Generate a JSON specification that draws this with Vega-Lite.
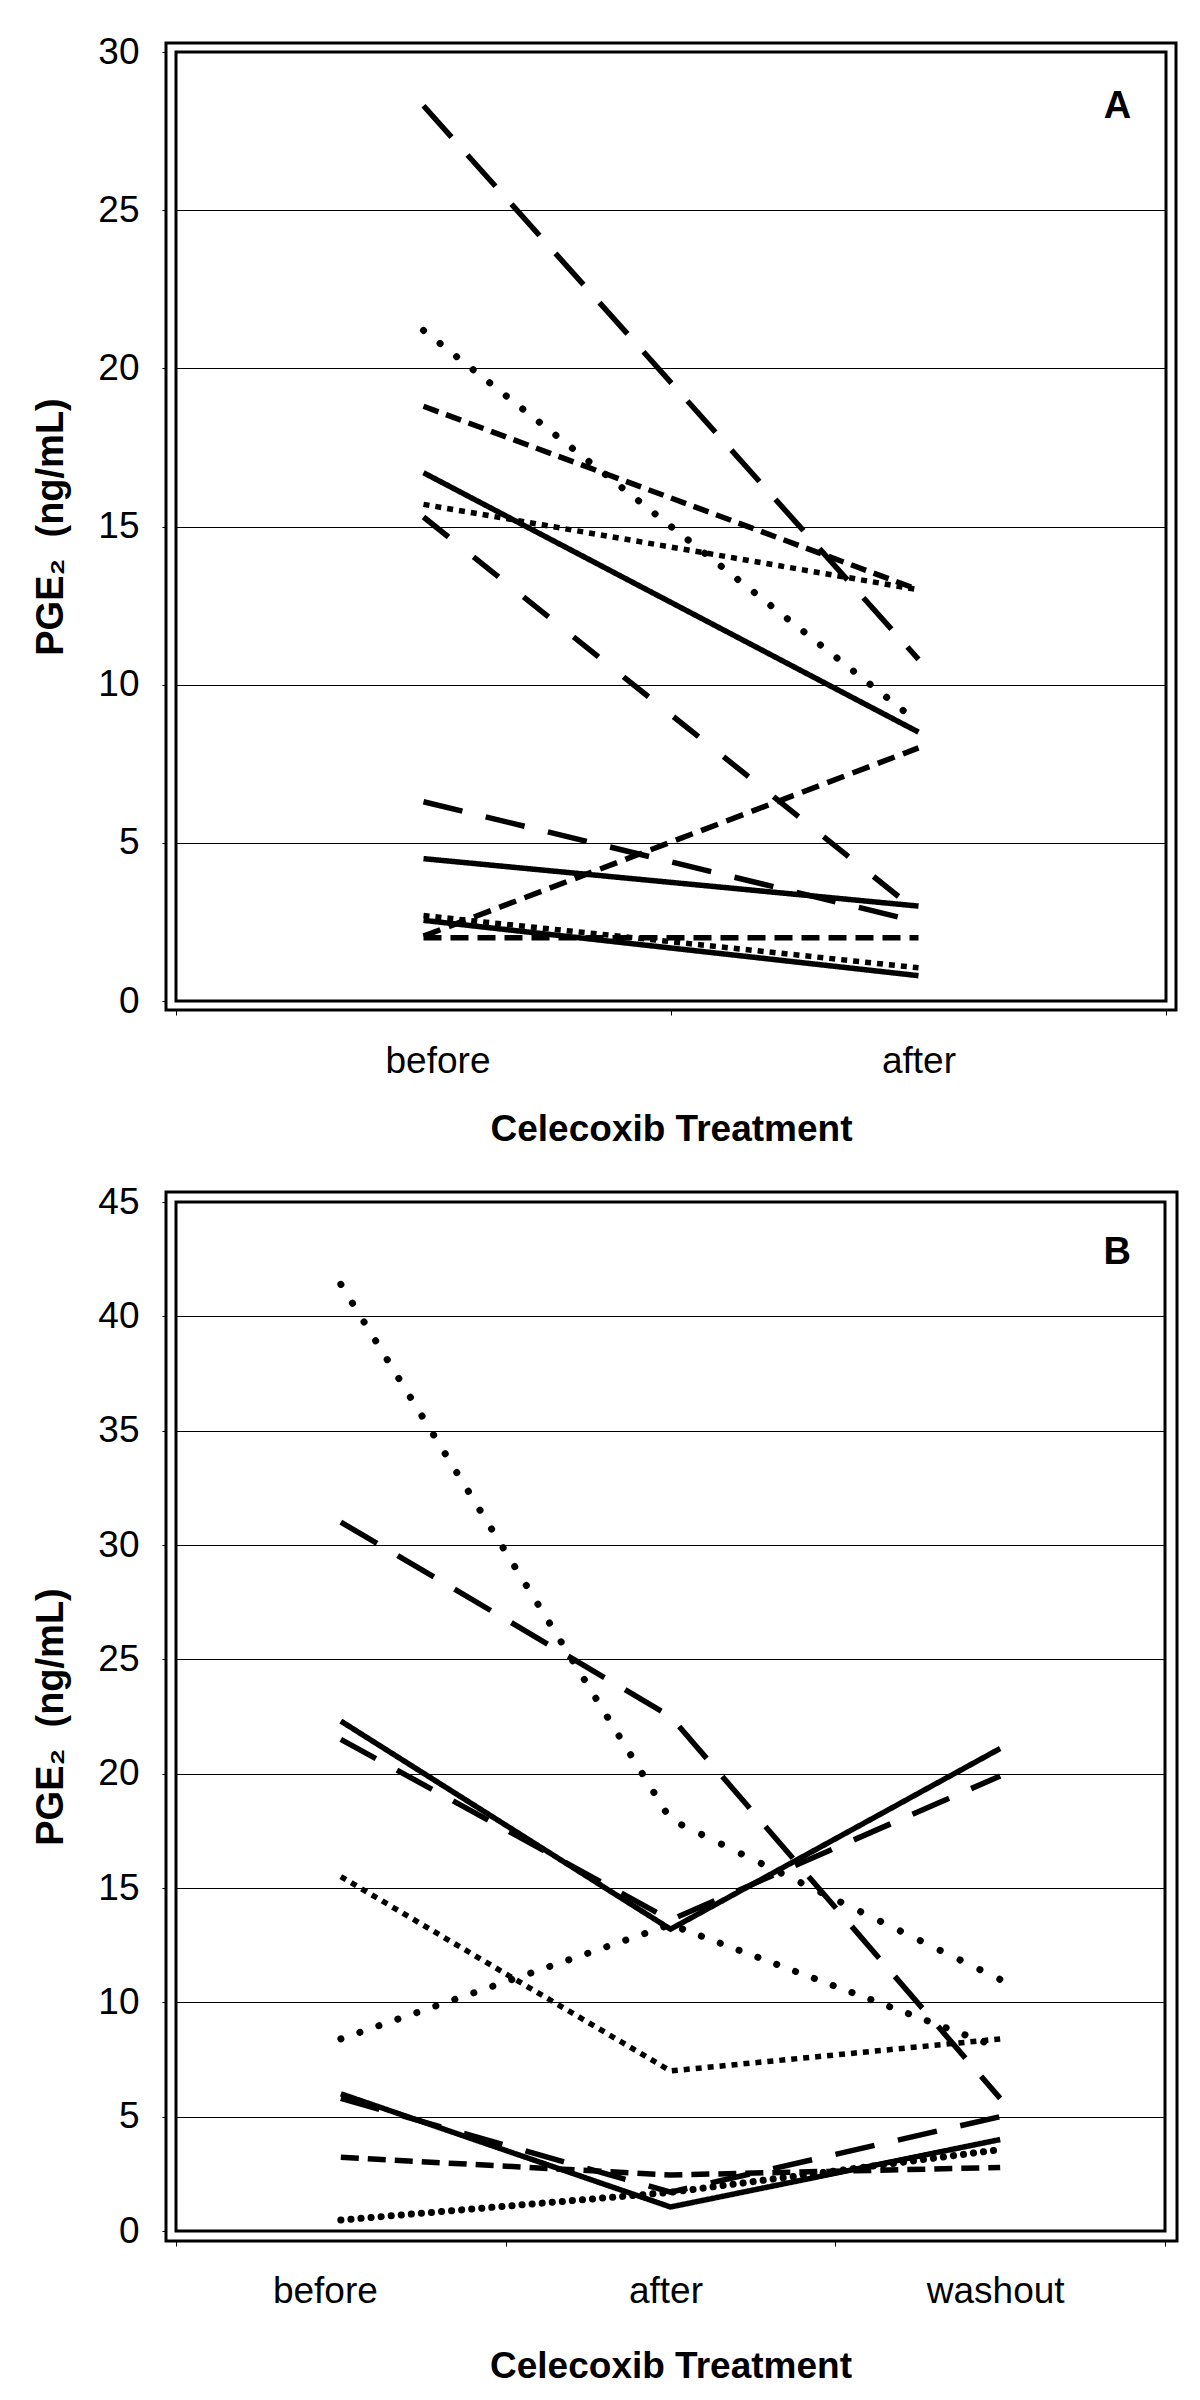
{
  "$schema": "https://vega.github.io/schema/vega-lite/v6.json",
  "background": "white",
  "padding": {"left": 31, "top": 31, "right": 0, "bottom": 0},
  "spacing": 32,
  "config": {
    "view": {"stroke": "#000", "strokeWidth": 3},
    "font": "Liberation Sans",
    "axis": {
      "labelFont": "Liberation Sans", "labelFontSize": 37, "labelColor": "#000",
      "titleFont": "Liberation Sans", "titleFontSize": 37, "titleFontWeight": "bold", "titleColor": "#000",
      "domain": false, "tickColor": "#000", "tickWidth": 1
    }
  },
  "resolve": {"scale": {"x": "independent", "y": "independent", "strokeDash": "independent"}},
  "vconcat": [
    {
      "width": 1010, "height": 967,
      "data": {"values": [
        {"subject": "A1", "phase": "before", "value": 28.3}, {"subject": "A1", "phase": "after", "value": 10.8},
        {"subject": "A2", "phase": "before", "value": 21.2}, {"subject": "A2", "phase": "after", "value": 8.8},
        {"subject": "A3", "phase": "before", "value": 18.8}, {"subject": "A3", "phase": "after", "value": 13.0},
        {"subject": "A4", "phase": "before", "value": 16.7}, {"subject": "A4", "phase": "after", "value": 8.5},
        {"subject": "A5", "phase": "before", "value": 15.7}, {"subject": "A5", "phase": "after", "value": 13.0},
        {"subject": "A6", "phase": "before", "value": 15.3}, {"subject": "A6", "phase": "after", "value": 2.8},
        {"subject": "A7", "phase": "before", "value": 6.3}, {"subject": "A7", "phase": "after", "value": 2.5},
        {"subject": "A8", "phase": "before", "value": 2.05}, {"subject": "A8", "phase": "after", "value": 8.0},
        {"subject": "A9", "phase": "before", "value": 4.5}, {"subject": "A9", "phase": "after", "value": 3.0},
        {"subject": "A10", "phase": "before", "value": 2.55}, {"subject": "A10", "phase": "after", "value": 0.8},
        {"subject": "A11", "phase": "before", "value": 2.7}, {"subject": "A11", "phase": "after", "value": 1.05},
        {"subject": "A12", "phase": "before", "value": 2.0}, {"subject": "A12", "phase": "after", "value": 2.0}
      ]},
      "layer": [
        {
          "data": {"values": [{}]},
          "mark": {"type": "rect", "filled": false, "stroke": "#000", "strokeWidth": 3},
          "encoding": {
            "x": {"datum": "before", "type": "ordinal", "bandPosition": 0,
                  "scale": {"type": "band", "domain": ["before", "after"], "range": [10, 1000], "paddingInner": 0, "paddingOuter": 0},
                  "axis": {"title": "Celecoxib Treatment", "labelAngle": 0, "tickBand": "extent", "tickSize": 5, "labelPadding": 28, "titlePadding": 32, "grid": false,
                           "labelOffset": {"condition": {"test": "datum.value === 'before'", "value": 14}, "value": 0}}},
            "x2": {"datum": "after", "bandPosition": 1},
            "y": {"datum": 0, "type": "quantitative",
                  "scale": {"domain": [0, 30], "range": [958, 9], "nice": false, "zero": false},
                  "axis": {"title": "PGE₂\u00a0\u00a0(ng/mL)", "titleFontSize": 38, "values": [0, 5, 10, 15, 20, 25, 30], "grid": true, "gridColor": "#000", "gridWidth": 1, "tickSize": 4, "labelPadding": 23, "titlePadding": 27}},
            "y2": {"datum": 30}
          }
        },
        {
          "transform": [{"filter": {"not": {"field": "subject", "oneOf": ["A2"]}}}],
          "mark": {"type": "line", "strokeWidth": 5.5, "strokeCap": "butt", "color": "#000"},
          "encoding": {
            "x": {"field": "phase", "type": "ordinal", "bandPosition": 0.5},
            "y": {"field": "value", "type": "quantitative"},
            "detail": {"field": "subject"},
            "order": {"value": null},
            "strokeDash": {"field": "subject", "type": "nominal", "legend": null,
              "scale": {"domain": ["A1", "A2", "A3", "A4", "A5", "A6", "A7", "A8", "A9", "A10", "A11", "A12"],
                        "range": [[42, 24], [0.1, 21], [16, 8], [1, 0], [6, 6], [32, 32], [40, 24], [18, 9], [1, 0], [1, 0], [6, 6], [18, 9]]}}
          }
        },
        {
          "transform": [{"filter": {"field": "subject", "oneOf": ["A2"]}}],
          "mark": {"type": "line", "strokeWidth": 7, "strokeCap": "round", "color": "#000"},
          "encoding": {
            "x": {"field": "phase", "type": "ordinal", "bandPosition": 0.5},
            "y": {"field": "value", "type": "quantitative"},
            "detail": {"field": "subject"},
            "order": {"value": null},
            "strokeDash": {"field": "subject", "type": "nominal", "legend": null}
          }
        },
        {
          "data": {"values": [{"label": "A"}]},
          "mark": {"type": "text", "fontSize": 38, "fontWeight": "bold", "font": "Liberation Sans", "align": "center", "baseline": "alphabetic", "color": "#000"},
          "encoding": {
            "x": {"datum": "after", "type": "ordinal", "bandPosition": 0.902},
            "y": {"datum": 27.9, "type": "quantitative"},
            "text": {"field": "label"}
          }
        }
      ]
    },
    {
      "width": 1011, "height": 1049,
      "data": {"values": [
        {"subject": "B1", "phase": "before", "value": 41.4}, {"subject": "B1", "phase": "after", "value": 18.0}, {"subject": "B1", "phase": "washout", "value": 11.0},
        {"subject": "B2", "phase": "before", "value": 31.0}, {"subject": "B2", "phase": "after", "value": 22.5}, {"subject": "B2", "phase": "washout", "value": 5.8},
        {"subject": "B3", "phase": "before", "value": 22.3}, {"subject": "B3", "phase": "after", "value": 13.2}, {"subject": "B3", "phase": "washout", "value": 21.1},
        {"subject": "B4", "phase": "before", "value": 21.5}, {"subject": "B4", "phase": "after", "value": 13.6}, {"subject": "B4", "phase": "washout", "value": 19.9},
        {"subject": "B5", "phase": "before", "value": 15.5}, {"subject": "B5", "phase": "after", "value": 7.0}, {"subject": "B5", "phase": "washout", "value": 8.4},
        {"subject": "B6", "phase": "before", "value": 8.4}, {"subject": "B6", "phase": "after", "value": 13.4}, {"subject": "B6", "phase": "washout", "value": 8.0},
        {"subject": "B7", "phase": "before", "value": 6.0}, {"subject": "B7", "phase": "after", "value": 1.05}, {"subject": "B7", "phase": "washout", "value": 4.0},
        {"subject": "B8", "phase": "before", "value": 5.8}, {"subject": "B8", "phase": "after", "value": 1.7}, {"subject": "B8", "phase": "washout", "value": 5.0},
        {"subject": "B9", "phase": "before", "value": 3.22}, {"subject": "B9", "phase": "after", "value": 2.45}, {"subject": "B9", "phase": "washout", "value": 2.78},
        {"subject": "B10", "phase": "before", "value": 0.48}, {"subject": "B10", "phase": "after", "value": 1.69}, {"subject": "B10", "phase": "washout", "value": 3.56}
      ]},
      "layer": [
        {
          "data": {"values": [{}]},
          "mark": {"type": "rect", "filled": false, "stroke": "#000", "strokeWidth": 3},
          "encoding": {
            "x": {"datum": "before", "type": "ordinal", "bandPosition": 0,
                  "scale": {"type": "band", "domain": ["before", "after", "washout"], "range": [10, 999], "paddingInner": 0, "paddingOuter": 0},
                  "axis": {"title": "Celecoxib Treatment", "labelAngle": 0, "tickBand": "extent", "tickSize": 5, "labelPadding": 27, "titlePadding": 39, "grid": false,
                           "labelOffset": {"condition": {"test": "datum.value === 'before'", "value": -16}, "value": -5}}},
            "x2": {"datum": "washout", "bandPosition": 1},
            "y": {"datum": 0, "type": "quantitative",
                  "scale": {"domain": [0, 45], "range": [1039, 10], "nice": false, "zero": false},
                  "axis": {"title": "PGE₂\u00a0\u00a0(ng/mL)", "titleFontSize": 38, "values": [0, 5, 10, 15, 20, 25, 30, 35, 40, 45], "grid": true, "gridColor": "#000", "gridWidth": 1, "tickSize": 4, "labelPadding": 23, "titlePadding": 27}},
            "y2": {"datum": 45}
          }
        },
        {
          "transform": [{"filter": {"not": {"field": "subject", "oneOf": ["B1", "B6", "B10"]}}}],
          "mark": {"type": "line", "strokeWidth": 5.5, "strokeCap": "butt", "color": "#000"},
          "encoding": {
            "x": {"field": "phase", "type": "ordinal", "bandPosition": 0.5},
            "y": {"field": "value", "type": "quantitative"},
            "detail": {"field": "subject"},
            "order": {"value": null},
            "strokeDash": {"field": "subject", "type": "nominal", "legend": null,
              "scale": {"domain": ["B1", "B2", "B3", "B4", "B5", "B6", "B7", "B8", "B9", "B10"],
                        "range": [[0.1, 22], [42, 24], [1, 0], [40, 24], [6, 6], [0.1, 20], [1, 0], [40, 24], [18, 9], [0.1, 10]]}}
          }
        },
        {
          "transform": [{"filter": {"field": "subject", "oneOf": ["B1", "B6", "B10"]}}],
          "mark": {"type": "line", "strokeWidth": 7, "strokeCap": "round", "color": "#000"},
          "encoding": {
            "x": {"field": "phase", "type": "ordinal", "bandPosition": 0.5},
            "y": {"field": "value", "type": "quantitative"},
            "detail": {"field": "subject"},
            "order": {"value": null},
            "strokeDash": {"field": "subject", "type": "nominal", "legend": null}
          }
        },
        {
          "data": {"values": [{"label": "B"}]},
          "mark": {"type": "text", "fontSize": 38, "fontWeight": "bold", "font": "Liberation Sans", "align": "center", "baseline": "alphabetic", "color": "#000"},
          "encoding": {
            "x": {"datum": "washout", "type": "ordinal", "bandPosition": 0.855},
            "y": {"datum": 42.3, "type": "quantitative"},
            "text": {"field": "label"}
          }
        }
      ]
    }
  ]
}
